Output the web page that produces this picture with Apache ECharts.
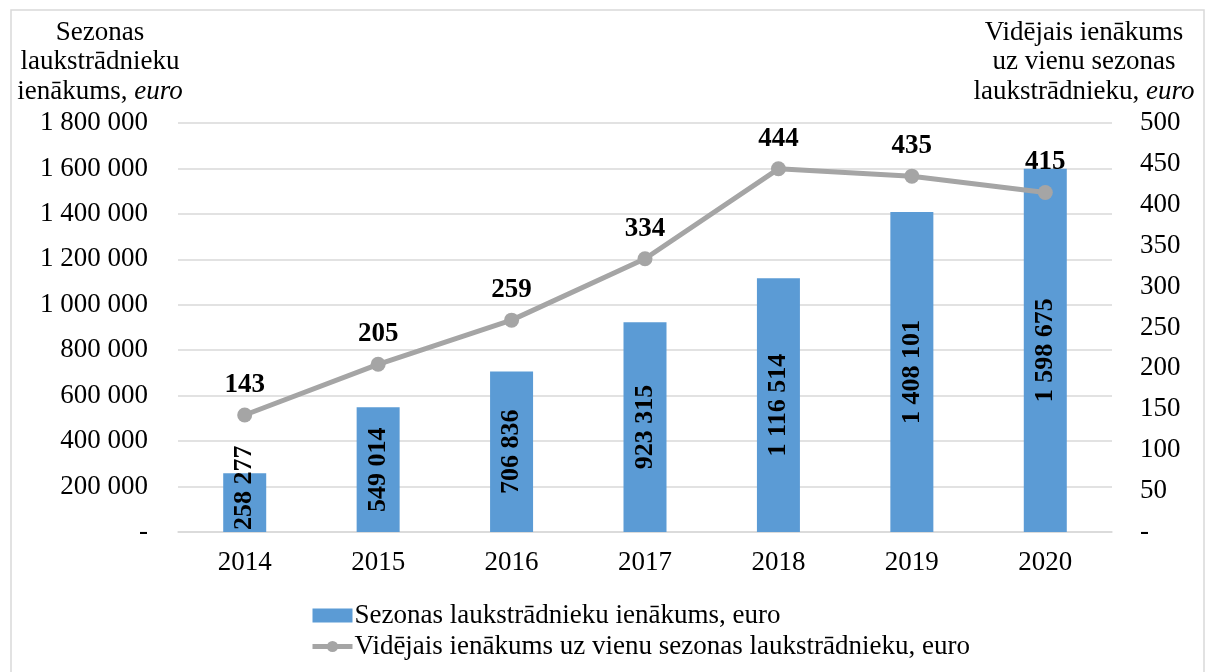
<!DOCTYPE html>
<html>
  <head>
    <meta charset="UTF-8" />
    <title>Sezonas laukstrādnieku ienākumi</title>
    <script src="https://cdn.jsdelivr.net/npm/echarts@6/dist/echarts.min.js"></script>
  </head>
  <body style="margin: 0">
    <div id="chart" style="width: 1208px; height: 672px"></div>
    <script>
      var years = ["2014", "2015", "2016", "2017", "2018", "2019", "2020"];
      var totalIncome = [258277, 549014, 706836, 923315, 1116514, 1408101, 1598675];
      var avgIncome = [143, 205, 259, 334, 444, 435, 415];
      var barName = "Sezonas laukstrādnieku ienākums, euro";
      var lineName = "Vidējais ienākums uz vienu sezonas laukstrādnieku, euro";

      var font = "'Liberation Serif', 'Times New Roman', serif";
      var fs = 27;

      // 1 800 000 style
      function spaced(v) {
        if (v === 0) return "-";
        return String(v).replace(/\B(?=(\d{3})+(?!\d))/g, " ");
      }

      // bar labels sit in the middle of the bar; the short first bar gets them from the bottom
      var barData = totalIncome.map(function (v, i) {
        if (i === 0) {
          return {
            value: v,
            label: { position: "insideBottom", align: "left", distance: 2 },
          };
        }
        return v;
      });

      var chart = echarts.init(document.getElementById("chart"));
      var option = {
        backgroundColor: "#fff",
        animation: false,
        textStyle: { fontFamily: font, color: "#000" },
        grid: { left: 178, right: 96, top: 123, bottom: 140 },
        graphic: [
          {
            type: "rect",
            shape: { x: 11, y: 10, width: 1193, height: 680 },
            style: { fill: "none", stroke: "#D9D9D9", lineWidth: 1.5 },
            silent: true,
          },
          {
            type: "text",
            x: 100,
            y: 18,
            style: {
              text: "Sezonas\nlaukstrādnieku\nienākums, {i|euro}",
              font: fs + "px " + font,
              fill: "#000",
              align: "center",
              lineHeight: 29.5,
              rich: { i: { fontStyle: "italic", fontSize: fs, fontFamily: font, lineHeight: 29.5 } },
            },
          },
          {
            type: "text",
            x: 1084,
            y: 18,
            style: {
              text: "Vidējais ienākums\nuz vienu sezonas\nlaukstrādnieku, {i|euro}",
              font: fs + "px " + font,
              fill: "#000",
              align: "center",
              lineHeight: 29.5,
              rich: { i: { fontStyle: "italic", fontSize: fs, fontFamily: font, lineHeight: 29.5 } },
            },
          },
        ],
        legend: {
          orient: "vertical",
          left: 305,
          top: 597,
          itemGap: 4,
          itemWidth: 40,
          itemHeight: 14,
          textStyle: {
            fontSize: fs,
            lineHeight: 27,
            fontFamily: font,
            color: "#000",
            padding: [0, 0, 0, -3],
          },
          data: [
            { name: barName, icon: "rect", itemStyle: { color: "#5B9BD5" } },
            {
              name: lineName,
              lineStyle: { width: 5, color: "#A5A5A5" },
              itemStyle: { color: "#A5A5A5" },
            },
          ],
        },
        xAxis: {
          type: "category",
          data: years,
          axisLine: { lineStyle: { color: "#D9D9D9", width: 1.5 } },
          axisTick: { show: false },
          axisLabel: { fontSize: fs, fontFamily: font, color: "#000", margin: 17 },
        },
        yAxis: [
          {
            type: "value",
            min: 0,
            max: 1800000,
            interval: 200000,
            axisLine: { show: false },
            axisTick: { show: false },
            splitLine: { lineStyle: { color: "#D9D9D9", width: 1.5 } },
            axisLabel: {
              fontSize: fs,
              fontFamily: font,
              color: "#000",
              margin: 30,
              formatter: spaced,
            },
          },
          {
            type: "value",
            min: 0,
            max: 500,
            interval: 50,
            axisLine: { show: false },
            axisTick: { show: false },
            splitLine: { show: false },
            axisLabel: {
              fontSize: fs,
              fontFamily: font,
              color: "#000",
              margin: 28,
              formatter: function (v) {
                return v === 0 ? "-" : String(v);
              },
            },
          },
        ],
        series: [
          {
            name: barName,
            type: "bar",
            data: barData,
            barWidth: 43,
            itemStyle: { color: "#5B9BD5" },
            label: {
              show: true,
              position: "inside",
              rotate: 90,
              align: "center",
              verticalAlign: "middle",
              fontSize: 26,
              fontWeight: "bold",
              fontFamily: font,
              color: "#000",
              formatter: function (p) {
                return spaced(p.value);
              },
            },
          },
          {
            name: lineName,
            type: "line",
            yAxisIndex: 1,
            data: avgIncome,
            symbol: "circle",
            symbolSize: 15,
            lineStyle: { color: "#A5A5A5", width: 5 },
            itemStyle: { color: "#A5A5A5" },
            label: {
              show: true,
              position: "top",
              distance: 9,
              fontSize: fs,
              fontWeight: "bold",
              fontFamily: font,
              color: "#000",
            },
          },
        ],
      };
      chart.setOption(option);
    </script>
  </body>
</html>
